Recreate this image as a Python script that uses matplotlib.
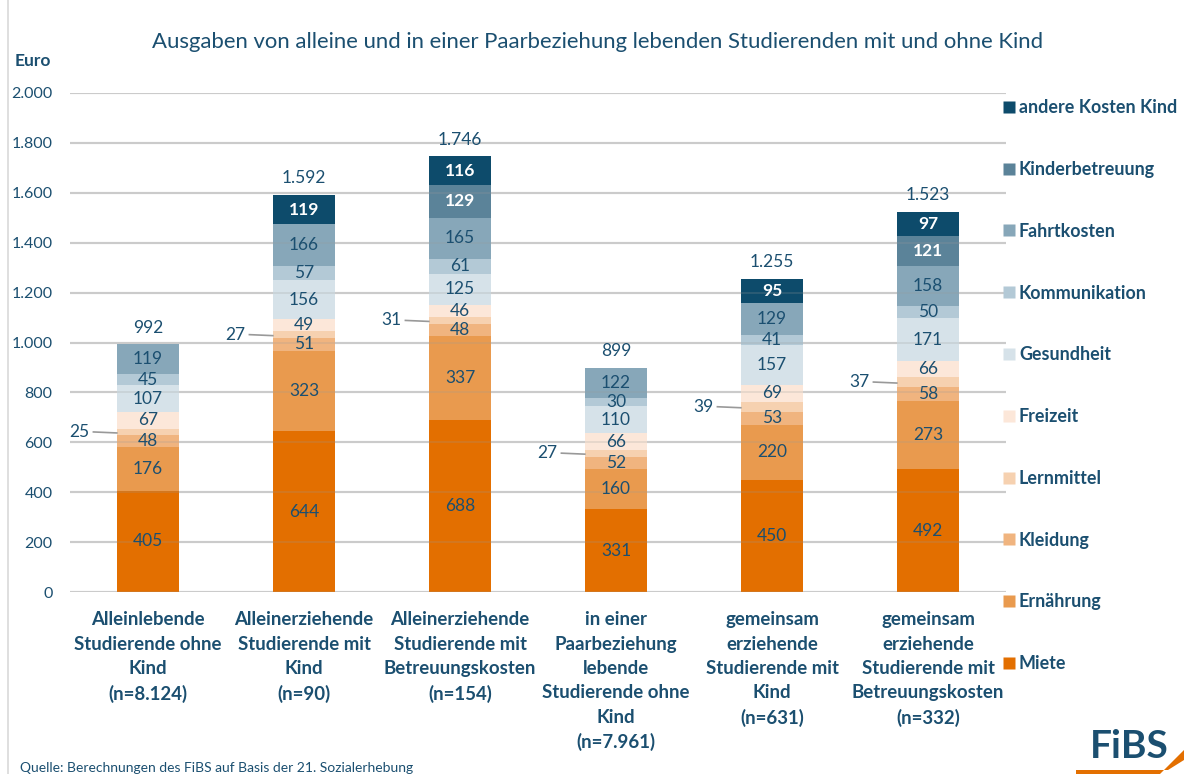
import matplotlib
matplotlib.use("Agg")
import matplotlib.pyplot as plt
from matplotlib.patches import Polygon
from matplotlib.lines import Line2D

plt.rcParams['font.family'] = ['Lato', 'DejaVu Sans']

categories = [
    "Alleinlebende\nStudierende ohne\nKind\n(n=8.124)",
    "Alleinerziehende\nStudierende mit\nKind\n(n=90)",
    "Alleinerziehende\nStudierende mit\nBetreuungskosten\n(n=154)",
    "in einer\nPaarbeziehung\nlebende\nStudierende ohne\nKind\n(n=7.961)",
    "gemeinsam\nerziehende\nStudierende mit\nKind\n(n=631)",
    "gemeinsam\nerziehende\nStudierende mit\nBetreuungskosten\n(n=332)",
]

series_names = ["Miete", "Ernährung", "Kleidung", "Lernmittel", "Freizeit",
                "Gesundheit", "Kommunikation", "Fahrtkosten", "Kinderbetreuung",
                "andere Kosten Kind"]

miete = [405, 644, 688, 331, 450, 492]
ernaehrung = [176, 323, 337, 160, 220, 273]
kleidung = [48, 51, 48, 52, 53, 58]
lernmittel = [25, 27, 31, 27, 39, 37]
freizeit = [67, 49, 46, 66, 69, 66]
gesundheit = [107, 156, 125, 110, 157, 171]
kommunikation = [45, 57, 61, 30, 41, 50]
fahrtkosten = [119, 166, 165, 122, 129, 158]
kinderbetreuung = [0, 0, 129, 0, 0, 121]
andere_kosten_kind = [0, 119, 116, 0, 95, 97]

totals = [992, 1592, 1746, 899, 1255, 1523]
total_labels = ["992", "1.592", "1.746", "899", "1.255", "1.523"]

yticks = [0, 200, 400, 600, 800, 1000, 1200, 1400, 1600, 1800, 2000]
ytick_labels = ["0", "200", "400", "600", "800", "1.000", "1.200", "1.400",
                "1.600", "1.800", "2.000"]

series = [miete, ernaehrung, kleidung, lernmittel, freizeit, gesundheit,
          kommunikation, fahrtkosten, kinderbetreuung, andere_kosten_kind]
colors = ["#E36F00", "#E99A4E", "#F0B47F", "#F6D1B0", "#FCE7D9",
          "#D6E2E9", "#B3C9D6", "#87A7B9", "#5B8399", "#0D4B6B"]
text_white = [False] * 8 + [True, True]
TXT = "#1B4F70"

fig = plt.figure(figsize=(11.84, 7.74), dpi=100)
ax = fig.add_axes([70 / 1184, 1 - 592 / 774, (1006 - 70) / 1184, (592 - 93) / 774])
ax.set_xlim(-0.5, 5.5)
ax.set_ylim(0, 2000)

x = list(range(len(categories)))
width = 0.4
for t in yticks:
    ax.axhline(t, color="#D9D9D9", lw=1.6, zorder=0)

bottoms = [0] * len(x)
for si, (vals, col) in enumerate(zip(series, colors)):
    ax.bar(x, vals, width=width, bottom=bottoms, color=col, zorder=2,
           edgecolor="none")
    for i, v in enumerate(vals):
        if v <= 0:
            continue
        yc = bottoms[i] + v / 2
        if series_names[si] == "Lernmittel":
            xl = i - width / 2
            ax.plot([xl - 0.15, xl], [yc, yc - 4], color="#999999", lw=1.2,
                    zorder=4, clip_on=False)
            ax.text(xl - 0.175, yc, str(v), ha="right", va="center",
                    fontsize=12.5, color=TXT, zorder=5)
        else:
            ax.text(i, yc, str(v), ha="center", va="center", fontsize=12.5,
                    color="white" if text_white[si] else TXT,
                    fontweight="bold" if text_white[si] else "normal", zorder=5)
    bottoms = [b + v for b, v in zip(bottoms, vals)]

for t in yticks:
    ax.axhline(t, color="#9A9A9A", lw=1.2, alpha=0.25, zorder=3)

for i, (tot, lab) in enumerate(zip(totals, total_labels)):
    ax.text(i, tot + 35, lab, ha="center", va="bottom", fontsize=12.5, color=TXT)

ax.set_xticks(x)
ax.set_xticklabels(categories, fontsize=13.4, fontweight="bold", color=TXT,
                   linespacing=1.52, va="top")
ax.set_yticks(yticks)
ax.set_yticklabels(ytick_labels, fontsize=11.5, color=TXT)
ax.tick_params(axis="both", length=0)
ax.tick_params(axis="x", pad=14)
ax.tick_params(axis="y", pad=12.5)
for s in ax.spines.values():
    s.set_visible(False)

fig.text(15 / 1184, 1 - 61 / 774, "Euro", fontsize=12.5, fontweight="bold",
         color=TXT, ha="left", va="center")
fig.text(598 / 1184, 1 - 42 / 774,
         "Ausgaben von alleine und in einer Paarbeziehung lebenden Studierenden mit und ohne Kind",
         fontsize=15.9, color=TXT, ha="center", va="center")

# legend
handles = [Line2D([0], [0], marker="s", color="none", markerfacecolor=c,
                  markeredgecolor="none", markersize=9)
           for c in colors[::-1]]
leg = fig.legend(handles, series_names[::-1], loc="upper left",
                 bbox_to_anchor=(993 / 1184, 1 - 92 / 774), frameon=False,
                 fontsize=12.9, labelspacing=2.5, handletextpad=0.05,
                 handlelength=1.0, borderaxespad=0)
for t in leg.get_texts():
    t.set_color(TXT)
    t.set_fontweight("bold")

fig.text(20 / 1184, 1 - 768 / 774,
         "Quelle: Berechnungen des FiBS auf Basis der 21. Sozialerhebung",
         fontsize=10, color=TXT, ha="left", va="center")

# frame line at left
fig.add_artist(Line2D([8 / 1184, 8 / 1184], [0, 1], color="#D9D9D9", lw=1.2))

# logo
fig.text(1129 / 1184, 1 - 747 / 774, "FiBS", fontsize=28, fontweight="bold",
         color="#1B4F70", ha="center", va="center")
fig.add_artist(Polygon([[1076 / 1184, 0], [1160 / 1184, 0],
                        [1184 / 1184, 24 / 774], [1184 / 1184, 14 / 774],
                        [1168 / 1184, 4 / 774], [1076 / 1184, 4 / 774]],
                       closed=True, transform=fig.transFigure,
                       facecolor="#E36F00", edgecolor="none"))

fig.savefig("out.png", dpi=100)
